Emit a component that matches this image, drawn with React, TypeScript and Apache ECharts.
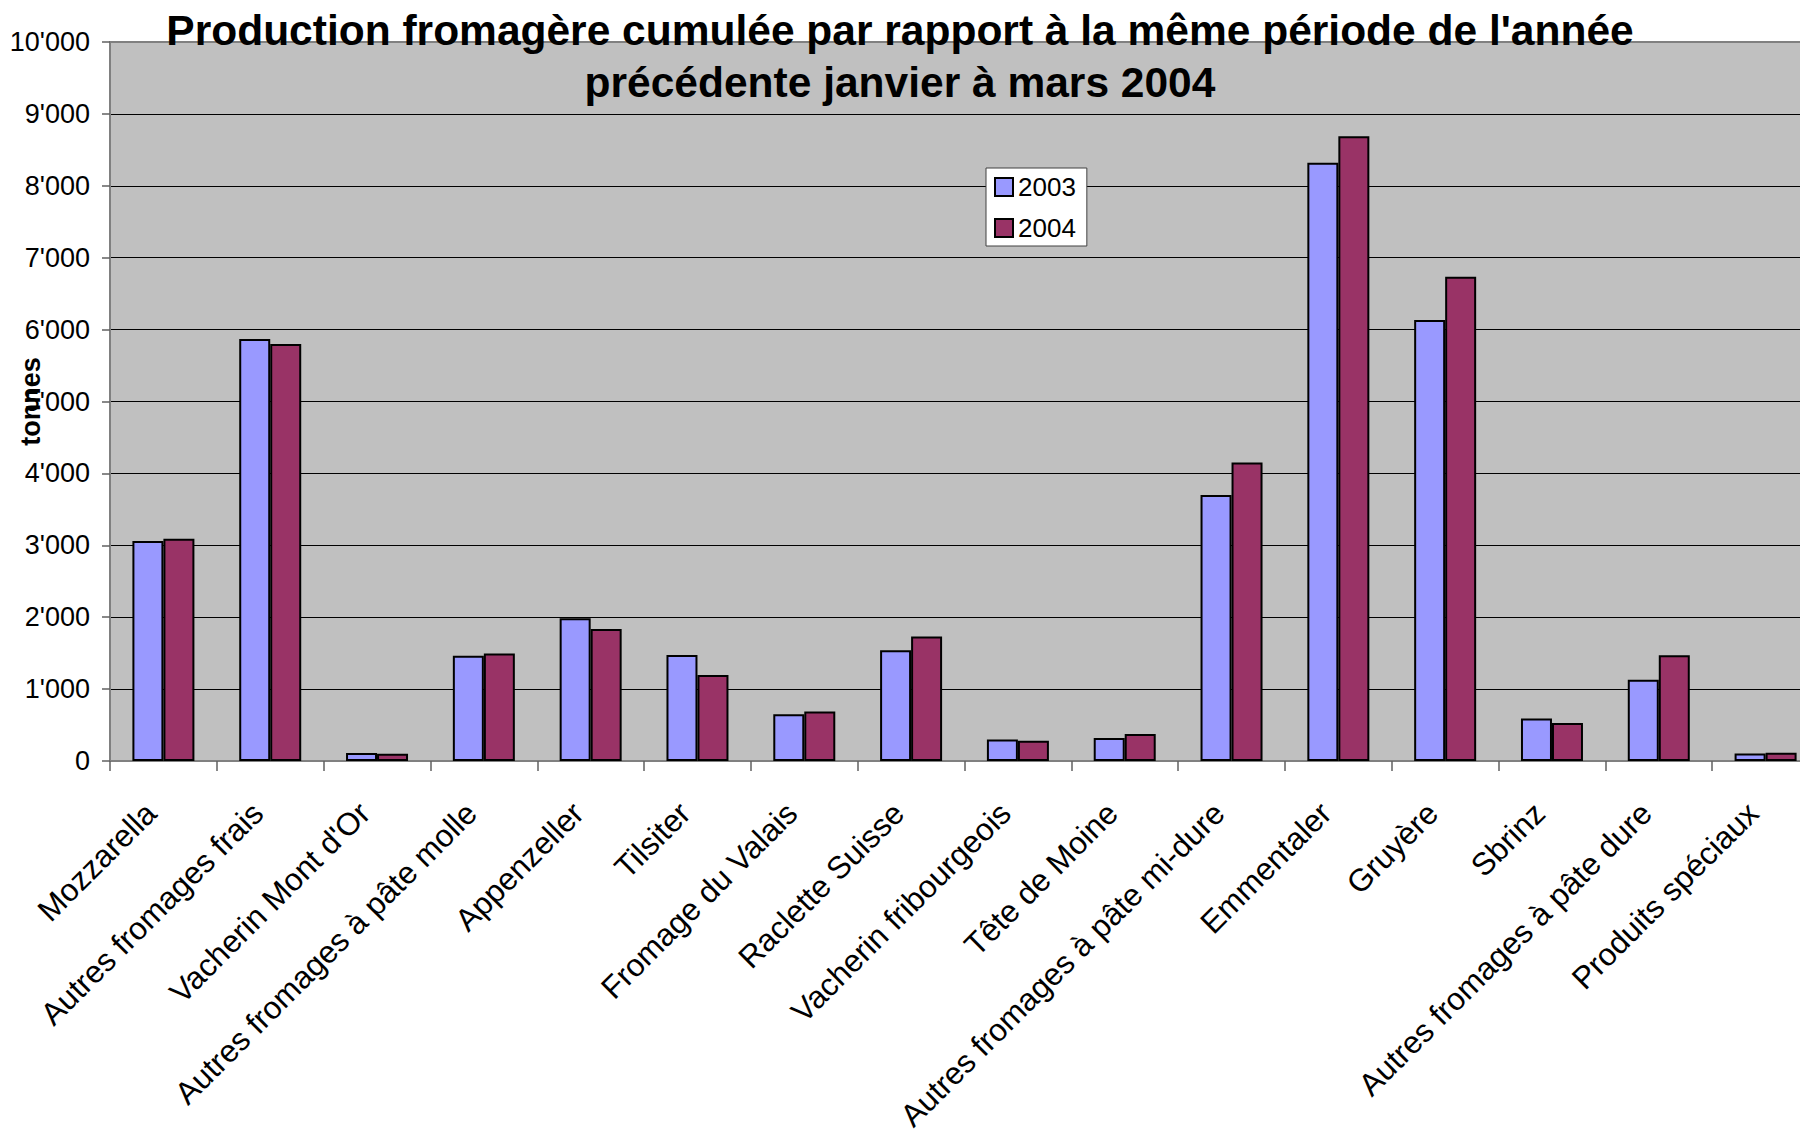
import React, { useEffect, useRef } from "react";
import * as echarts from "echarts";

const titleLines = [
  "Production fromagère cumulée par rapport à la même période de l'année",
  "précédente janvier à mars 2004",
];
const yAxisName = "tonnes";
const categories = [
  "Mozzarella",
  "Autres fromages frais",
  "Vacherin Mont d'Or",
  "Autres fromages à pâte molle",
  "Appenzeller",
  "Tilsiter",
  "Fromage du Valais",
  "Raclette Suisse",
  "Vacherin fribourgeois",
  "Tête de Moine",
  "Autres fromages à pâte mi-dure",
  "Emmentaler",
  "Gruyère",
  "Sbrinz",
  "Autres fromages à pâte dure",
  "Produits spéciaux",
];
const seriesNames = ["2003", "2004"];
const values2003 = [3060, 5870, 110, 1465, 1985, 1475, 650, 1540, 300, 320, 3700, 8320, 6135, 590, 1130, 105];
const values2004 = [3090, 5800, 100, 1495, 1835, 1195, 690, 1730, 280, 375, 4150, 8690, 6735, 530, 1470, 115];
const yMin = 0;
const yMax = 10000;
const yInterval = 1000;

const FONT = "'Liberation Sans', Arial, Helvetica, sans-serif";

function fmt(v: number): string {
  return String(Math.round(v)).replace(/\B(?=(\d{3})+(?!\d))/g, "'");
}

export default function App() {
  const ref = useRef<HTMLDivElement>(null);
  useEffect(() => {
    if (!ref.current) return;
    const chart = echarts.init(ref.current, null, { renderer: "svg" });
    const nLines = Math.round((yMax - yMin) / yInterval) + 1;
    const splitColors = Array.from({ length: nLines }, (_, i) => (i === nLines - 1 ? "#808080" : "#000000"));
    chart.setOption({
      animation: false,
      backgroundColor: "#ffffff",
      textStyle: { fontFamily: FONT },
      title: {
        text: titleLines.join("\n"),
        left: "center",
        top: -1,
        textStyle: {
          fontFamily: FONT,
          fontSize: 42.5,
          fontWeight: "bold",
          color: "#000",
          lineHeight: 52,
        },
        z: 10,
      },
      legend: {
        orient: "vertical",
        left: 986,
        top: 168,
        padding: [6, 11, 5, 8],
        backgroundColor: "#ffffff",
        borderColor: "#404040",
        borderWidth: 1,
        borderRadius: 0,
        itemWidth: 18,
        itemHeight: 18,
        itemGap: 15,
        icon: "rect",
        textStyle: { fontFamily: FONT, fontSize: 26, color: "#000" },
        data: seriesNames,
      },
      grid: {
        left: 110,
        right: -19,
        top: 42,
        bottom: 372,
        show: true,
        backgroundColor: "#C0C0C0",
        borderColor: "#808080",
        borderWidth: 2,
        containLabel: false,
        outerBoundsMode: "none",
      },
      xAxis: {
        type: "category",
        data: categories,
        boundaryGap: true,
        axisLine: { show: true, lineStyle: { color: "#808080", width: 2 } },
        axisTick: { show: true, interval: 0, length: 10, alignWithLabel: false, lineStyle: { color: "#606060", width: 1.5 } },
        axisLabel: {
          show: true,
          interval: 0,
          rotate: 45,
          margin: 34,
          padding: [0, 18, 0, 0],
          fontFamily: FONT,
          fontSize: 31.5,
          color: "#000",
          hideOverlap: false,
        },
        splitLine: { show: false },
      },
      yAxis: {
        type: "value",
        min: yMin,
        max: yMax,
        interval: yInterval,
        name: yAxisName,
        nameLocation: "middle",
        nameRotate: 90,
        nameGap: 66,
        nameMoveOverlap: false,
        nameTextStyle: { fontFamily: FONT, fontSize: 27, fontWeight: "bold", color: "#000" },
        axisLine: { show: true, lineStyle: { color: "#808080", width: 2 } },
        axisTick: { show: true, length: 8, lineStyle: { color: "#606060", width: 1.5 } },
        axisLabel: {
          margin: 20,
          fontFamily: FONT,
          fontSize: 27,
          color: "#000",
          formatter: (v: number) => fmt(v),
        },
        splitLine: { show: true, lineStyle: { color: splitColors, width: 1 } },
      },
      series: [
        {
          name: seriesNames[0],
          type: "bar",
          data: values2003,
          barWidth: 31,
          barGap: "0%",
          itemStyle: { color: "#9999FF", borderColor: "#000000", borderWidth: 2 },
        },
        {
          name: seriesNames[1],
          type: "bar",
          data: values2004,
          barWidth: 31,
          barGap: "0%",
          itemStyle: { color: "#993366", borderColor: "#000000", borderWidth: 2 },
        },
      ],
    });
    return () => chart.dispose();
  }, []);
  return (
    <div
      ref={ref}
      style={{ position: "fixed", left: 0, top: 0, width: 1800, height: 1133, overflow: "hidden" }}
    />
  );
}
